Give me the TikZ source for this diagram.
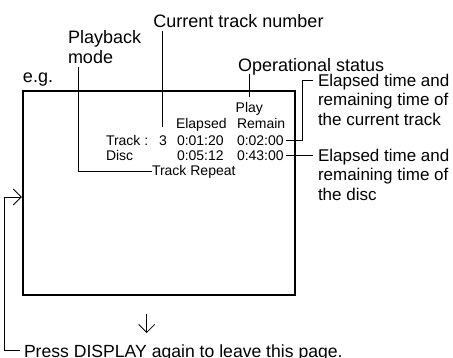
\documentclass[tikz,border=0pt]{standalone}
\usepackage{fontspec}
\setmainfont{Liberation Sans}
\usetikzlibrary{arrows.meta,calc}
\newcommand\lblfont{\fontsize{18}{19.5}\selectfont}
\newcommand\notefont{\fontsize{17}{19.5}\selectfont}
\newcommand\lcdfont{\fontsize{14}{16}\selectfont}

\begin{document}
\begin{tikzpicture}[
  x=1pt, y=-1pt,
  lbl/.style={font=\lblfont, inner sep=0pt, outer sep=0pt},
  note/.style={font=\notefont, inner sep=0pt, outer sep=0pt, align=left,
    anchor=north west},
  lcd/.style={font=\lcdfont, inner sep=0pt, outer sep=0pt, anchor=base west},
  screen/.style={draw, line width=1.8pt, inner sep=0pt,
    minimum width=272.3pt, minimum height=204.3pt},
  conn/.style={line width=0.8pt},
  arr/.style={conn, -{Straight Barb[length=8pt,width=16pt]}},
]
\useasboundingbox (0,0) rectangle (453,357);

% Callouts above the screen
\node[lbl, anchor=base] (ctn) at (238.5,27) {Current track number};
\node[lbl, anchor=north west, align=left] (pbm) at (68,30.5) {Playback\\mode};
\node[lbl, anchor=base west] (ops) at (238,71.3) {Operational status};
\node[lbl, anchor=base west] (eg) at (23,82) {e.g.};

% Screen
\node[screen] (screen) at (158.9,192.9) {};
\node[lcd] (play) at (235.7,112.6) {Play};
\node[lcd] (hdel) at (176,128.3) {Elapsed};
\node[lcd] (hdrm) at (237,128.3) {Remain};
\node[lcd] (trk) at (106,145) {Track :};
\node[lcd] (num) at (159,145) {3};
\node[lcd] (tel) at (177,145) {0:01:20};
\node[lcd] (trm) at (237,145) {0:02:00};
\node[lcd] (dsc) at (106,160.5) {Disc};
\node[lcd] (del) at (177,160.5) {0:05:12};
\node[lcd] (drm) at (237,160.5) {0:43:00};
\node[lcd] (rep) at (152,175) {Track Repeat};

% Callouts on the right
\node[note] (lab1) at (318,74) {Elapsed time and\\remaining time of\\the current track};
\node[note] (lab2) at (318,149) {Elapsed time and\\remaining time of\\the disc};

\node[lbl, anchor=base west, font=\fontsize{17.6}{20}\selectfont] (press) at (24,357.6)
  {Press DISPLAY again to leave this page.};

% Leader lines
\draw[conn] ($(ctn.base -| num.north)+(0,-4pt)$) -- ($(num.north)+(0,8pt)$);
\draw[conn] ($(pbm.south west)+(10pt,-4pt)$) |- (rep.west);
\draw[conn] ($(ops.base -| play.north)+(0,-3pt)$) -- ($(play.north)+(0,5pt)$);
\draw[conn] ($(trm.east)+(2.5pt,0)$) -- ++(16,0) |- ($(lab1.north west)+(-5pt,-6.2pt)$);
\draw[conn] ($(drm.east)+(2.5pt,0)$) -- ($(drm.east -| lab2.north west)+(-5pt,0)$);

% Page arrows
\coordinate (back) at (4,197);
\draw[arr] ([xshift=-4pt,yshift=2.5pt]press.west) -| (back) -- (back -| screen.west);
\draw[arr] ([xshift=-12.2pt,yshift=-18pt]screen.south) -- ++(0,19);

\end{tikzpicture}
\end{document}
